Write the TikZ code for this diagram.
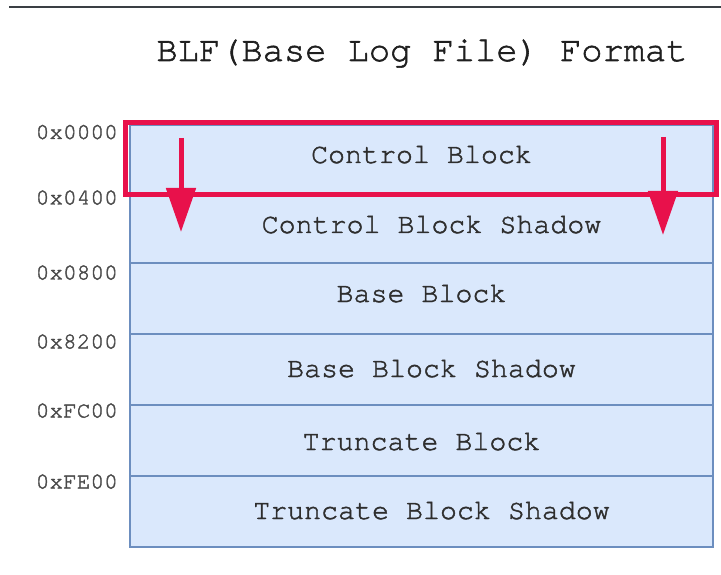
\documentclass[tikz,border=0pt]{standalone}
\usepackage{fontspec}
\newfontfamily\courfont[FakeBold=1.6]{TeX Gyre Cursor}
\usetikzlibrary{arrows.meta}
\definecolor{cellfill}{HTML}{DAE8FC}
\definecolor{cellline}{HTML}{6C8EBF}
\definecolor{hilite}{RGB}{232,17,75}
\definecolor{rule}{HTML}{3A3F44}
\definecolor{celltext}{HTML}{2E2E2E}
\definecolor{addrtext}{HTML}{4A4A4A}
\tikzset{
  cell/.style={draw=cellline, fill=cellfill, line width=1.5pt,
    minimum width=583pt, inner sep=0pt},
  celllabel/.style={anchor=base, inner sep=0pt, text=celltext,
    font=\courfont\fontsize{28.3}{30}\selectfont},
  addr/.style={anchor=base east, inner sep=0pt, text=addrtext,
    font=\courfont\fontsize{22.8}{24}\selectfont},
  selbox/.style={draw=hilite, line width=5pt, inner sep=0pt},
  flow/.style={draw=hilite, line width=5pt, -{Triangle[length=44pt,width=29pt]}},
}
\begin{document}
\begin{tikzpicture}[x=1pt,y=-1pt]
  \useasboundingbox (0,0) rectangle (721,575);
  % top rule
  \coordinate (ruleL) at (9,7);
  \coordinate (ruleR) at (721,7);
  \draw[rule, line width=2pt] (ruleL) -- (ruleR);
  % title
  \node[anchor=base, inner sep=0pt, text=black!88,
    font=\courfont\fontsize{35.4}{38}\selectfont] (title) at (422,61) {BLF(Base Log File) Format};
  % memory blocks
  \node[cell, minimum height=69pt]  (b1) at (421.5,159.5) {};
  \node[cell, minimum height=69pt]  (b2) at (421.5,228.5) {};
  \node[cell, minimum height=71pt]  (b3) at (421.5,298.5) {};
  \node[cell, minimum height=71pt]  (b4) at (421.5,369.5) {};
  \node[cell, minimum height=71pt]  (b5) at (421.5,440.5) {};
  \node[cell, minimum height=71pt]  (b6) at (421.5,511.5) {};
  \node[celllabel] (t1) at (421.5,163) {Control Block};
  \node[celllabel] (t2) at (431.5,233) {Control Block Shadow};
  \node[celllabel] (t3) at (421.5,302) {Base Block};
  \node[celllabel] (t4) at (431.5,377) {Base Block Shadow};
  \node[celllabel] (t5) at (421.5,450) {Truncate Block};
  \node[celllabel] (t6) at (431.5,519) {Truncate Block Shadow};
  % addresses
  \node[addr] (a1) at (118,139) {0x0000};
  \node[addr] (a2) at (118,204.5) {0x0400};
  \node[addr] (a3) at (118,279.5) {0x0800};
  \node[addr] (a4) at (118,348.5) {0x8200};
  \node[addr] (a5) at (118,417.5) {0xFC00};
  \node[addr] (a6) at (118,488.5) {0xFE00};
  % highlighted control block
  \node[selbox, minimum width=590.5pt, minimum height=72pt] (sel) at (420.75,158.5) {};
  % copy arrows
  \coordinate (l0) at (181,138);
  \coordinate (l1) at (181,232);
  \coordinate (r0) at (663,137);
  \coordinate (r1) at (663,235);
  \draw[flow] (l0) -- (l1);
  \draw[flow] (r0) -- (r1);
\end{tikzpicture}
\end{document}
